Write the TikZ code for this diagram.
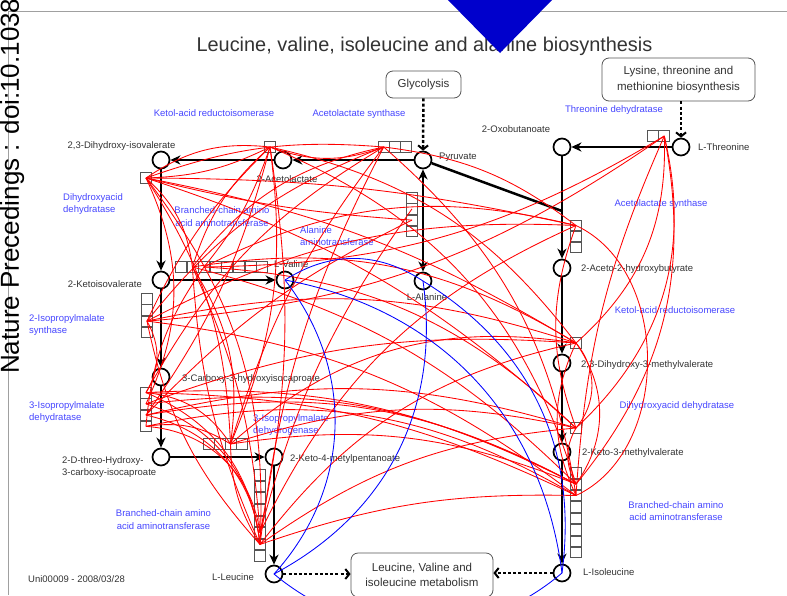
\documentclass[tikz,border=0pt]{standalone}
\usepackage{fontspec}
\setmainfont{Liberation Sans}
\usetikzlibrary{arrows.meta}
\definecolor{ink}{RGB}{51,51,51}
\definecolor{enz}{RGB}{70,70,255}
\definecolor{tri}{RGB}{0,0,204}
\definecolor{framegray}{RGB}{160,160,160}
\definecolor{boxline}{RGB}{85,85,85}

\begin{document}
\begin{tikzpicture}[x=1pt,y=-1pt,
  met/.style={circle,draw=black,line width=1.7pt,fill=white,minimum size=17pt,inner sep=0pt},
  ebox/.style={rectangle,draw=boxline,line width=0.7pt,fill=white,minimum width=11pt,minimum height=10.5pt,inner sep=0pt},
  lbl/.style={font=\fontsize{9.5}{12.5}\selectfont,text=ink,inner sep=0pt},
  enzlbl/.style={font=\fontsize{9.5}{12.5}\selectfont,text=enz,inner sep=0pt},
  pwbox/.style={draw=boxline,line width=0.8pt,rounded corners=7pt,fill=white,font=\fontsize{11.5}{15.5}\selectfont,text=ink,align=center,inner sep=0pt},
  flow/.style={line width=2.5pt,-{Stealth[length=10pt,width=9pt,inset=3pt]}},
  link/.style={line width=2.5pt,dash pattern=on 3pt off 2.2pt,-{Straight Barb[length=4pt,width=10pt,line width=2pt]}},
  rel/.style={red,line width=0.85pt},
  trans/.style={blue,line width=0.85pt},
]
\useasboundingbox (0,0) rectangle (787,595);

% frame and side stamp
\draw[framegray,line width=0.8pt] (8,595) -- (8,11.5) -- (787,11.5);
\node[rotate=90,anchor=base west,font=\fontsize{26}{30}\selectfont,inner sep=0pt] (stamp) at (19,374) {Nature Precedings : doi:10.1038};

% title
\node[anchor=base,font=\fontsize{19.9}{22}\selectfont,text=ink,inner sep=0pt] (title) at (424.5,51) {Leucine, valine, isoleucine and alanine biosynthesis};
\fill[tri] (447,-1) -- (553,-1) -- (500,53) -- cycle;

% linked pathways
\node[pwbox,minimum width=75pt,minimum height=27pt] (glyc) at (423.5,84.5) {Glycolysis};
\node[pwbox,minimum width=153pt,minimum height=43pt] (lys) at (678.5,79.5) {Lysine, threonine and\\methionine biosynthesis};
\node[pwbox,minimum width=142pt,minimum height=44pt] (metab) at (422,575) {Leucine, Valine and\\isoleucine metabolism};

% metabolites
\node[met] (dhiv) at (161,160) {};
\node[met] (acet) at (283,160) {};
\node[met] (pyr) at (423,160) {};
\node[met] (oxo) at (562,147) {};
\node[met] (thr) at (681,147) {};
\node[met] (kiv) at (161,280) {};
\node[met] (val) at (285,280) {};
\node[met] (ala) at (423,281) {};
\node[met] (ahb) at (562,268) {};
\node[met] (dhmv) at (562,363) {};
\node[met] (kmv) at (562,452) {};
\node[met] (ile) at (562,573) {};
\node[met] (cic) at (161,377) {};
\node[met] (hci) at (161,457) {};
\node[met] (kmp) at (274,457) {};
\node[met] (leu) at (274,574) {};
\coordinate (j) at (562,211);

% metabolite names
\node[lbl,anchor=base] (n-dhiv) at (121.5,148.5) {2,3-Dihydroxy-isovalerate};
\node[lbl,anchor=base] (n-acet) at (287,182.5) {2-Acetolactate};
\node[lbl,anchor=base west] (n-pyr) at (439,159.5) {Pyruvate};
\node[lbl,anchor=base] (n-oxo) at (516,132.5) {2-Oxobutanoate};
\node[lbl,anchor=base west] (n-thr) at (698,150.5) {L-Threonine};
\node[lbl,anchor=base east] (n-kiv) at (142,287.5) {2-Ketoisovalerate};
\node[lbl,anchor=base west] (n-val) at (274,267.5) {L-Valine};
\node[lbl,anchor=base] (n-ala) at (427,300.5) {L-Alanine};
\node[lbl,anchor=base west] (n-ahb) at (581,271.5) {2-Aceto-2-hydroxybutyrate};
\node[lbl,anchor=base west] (n-dhmv) at (581,367.5) {2,3-Dihydroxy-3-methylvalerate};
\node[lbl,anchor=base west] (n-kmv) at (582,455.5) {2-Keto-3-methylvalerate};
\node[lbl,anchor=base west] (n-ile) at (583,575.5) {L-Isoleucine};
\node[lbl,anchor=base west] (n-cic) at (182,381.5) {3-Carboxy-3-hydroxyisocaproate};
\node[lbl,anchor=west,align=left] (n-hci) at (62,467) {2-D-threo-Hydroxy-\\3-carboxy-isocaproate};
\node[lbl,anchor=base west] (n-kmp) at (290,461.5) {2-Keto-4-metylpentanoate};
\node[lbl,anchor=base west] (n-leu) at (212,580) {L-Leucine};
\node[lbl,anchor=base west] (stamp2) at (28,582.5) {Uni00009 - 2008/03/28};

% enzyme names
\node[enzlbl,anchor=base] (e1) at (214,116.5) {Ketol-acid reductoisomerase};
\node[enzlbl,anchor=base] (e2) at (359,116.5) {Acetolactate synthase};
\node[enzlbl,anchor=base] (e3) at (614,112.5) {Threonine dehydratase};
\node[enzlbl,anchor=west,align=left] (e4) at (63,204) {Dihydroxyacid\\dehydratase};
\node[enzlbl,align=center] (e5) at (222,216.5) {Branched-chain amino\\acid aminotransferase};
\node[enzlbl,anchor=west,align=left] (e6) at (300,236) {Alanine\\aminotransferase};
\node[enzlbl,anchor=base] (e7) at (661,206.5) {Acetolactate synthase};
\node[enzlbl,anchor=base] (e8) at (675,313.5) {Ketol-acid reductoisomerase};
\node[enzlbl,anchor=west,align=left] (e9) at (29,325) {2-Isopropylmalate\\synthase};
\node[enzlbl,anchor=base] (e10) at (677,408.5) {Dihydroxyacid dehydratase};
\node[enzlbl,anchor=west,align=left] (e11) at (29,412) {3-Isopropylmalate\\dehydratase};
\node[enzlbl,anchor=west,align=left] (e12) at (253,425) {3-Isopropylmalate\\dehydrogenase};
\node[enzlbl,align=center] (e13) at (163.5,519.5) {Branched-chain amino\\acid aminotransferase};
\node[enzlbl,align=center] (e14) at (676,511) {Branched-chain amino\\acid aminotransferase};

% reactions
\draw[flow] (pyr) -- (acet);
\draw[flow] (acet) -- (dhiv);
\draw[flow] (dhiv) -- (kiv);
\draw[flow] (kiv) -- (val);
\draw[flow] (kiv) -- (cic);
\draw[flow] (cic) -- (hci);
\draw[flow] (hci) -- (kmp);
\draw[flow] (kmp) -- (leu);
\draw[line width=2.5pt,{Stealth[length=10pt,width=9pt,inset=3pt]}-{Stealth[length=10pt,width=9pt,inset=3pt]}] (pyr) -- (ala);
\draw[flow] (thr) -- (oxo);
\draw[flow] (oxo) -- (ahb);
\draw[line width=2.5pt] (pyr) -- (j);
\draw[flow] (ahb) -- (dhmv);
\draw[flow] (dhmv) -- (kmv);
\draw[flow] (kmv) -- (ile);

% links to other pathways
\draw[link] (glyc) -- (pyr);
\draw[link] (lys.south -| thr) -- (thr);
\draw[link] (leu) -- (metab.west |- leu);
\draw[link] (ile) -- (metab.east |- ile);

% enzyme boxes
\foreach \i/\x in {1/383.7,2/395,3/406.3} \node[ebox] (pr\i) at (\x,147) {};
\foreach \i/\x in {1/652.7,2/664.3} \node[ebox] (th\i) at (\x,136) {};
\foreach \i in {1,...,4} \node[ebox] (pa\i) at (412,{186.35+11.25*\i}) {};
\foreach \i in {1,2,3} \node[ebox] (ah\i) at (576,{214.5+11*\i}) {};
\node[ebox] (ka) at (270,147) {};
\node[ebox] (da) at (146,178) {};
\node[ebox] (kr) at (576,343) {};
\node[ebox] (dq) at (576,428) {};
\foreach \i in {1,...,8} \node[ebox] (ic\i) at (576,{461.3+11.4*\i}) {};
\foreach \i in {1,...,8} \node[ebox] (vr\i) at ({169.2+11.6*\i},267) {};
\foreach \i in {1,...,4} \node[ebox] (kc\i) at (147,{287.35+11.25*\i}) {};
\foreach \i in {1,...,4} \node[ebox] (cc\i) at (146,{381.35+11.25*\i}) {};
\foreach \i in {1,...,4} \node[ebox] (dr\i) at ({197.5+11*\i},444) {};
\foreach \i in {1,...,8} \node[ebox] (lc\i) at (260,{463.2+11.6*\i}) {};

% enzyme relations
\foreach \a/\b/\g in {
  da/ka/20, da/ka/-12, ka/pr1/-20, da/pr1/12, da/ah1/6, da/kr/10, da/dq/12, da/pa3/-5,
  da/vr2/20, da/cc2/25, da/dr3/15, da/lc7/20,
  ka/vr2/-15, ka/vr3/10, ka/kc3/-10, ka/cc3/10, ka/dr3/15, ka/lc6/10, ka/kr/20, ka/ic2/25,
  pr1/vr2/-20, pr1/kc3/-15, pr1/cc1/-15, pr1/dr3/-10, pr1/lc7/-10, pr1/ah1/15, pr1/ic3/20,
  th2/kc3/15, th2/vr3/15, th2/kr/25, th2/dq/30, th2/ic2/25, th2/ic3/-10,
  vr2/lc7/-10, vr2/lc6/10, vr3/cc4/-15, vr2/dr3/20, vr2/ic2/15, vr3/dq/20, vr2/kr/20, vr3/ah1/20,
  kc3/ic3/15, kc3/kr/15, kc3/ah1/15, kc3/cc1/30, kc3/lc7/-15,
  cc1/ic2/15, cc2/ic2/17, cc3/ic2/19, cc4/ic3/21, cc1/ic3/12, cc3/dq/15, cc2/kr/12,
  cc1/lc7/30, cc2/lc7/33, cc3/lc7/36, cc4/lc6/39, cc1/dr3/25, cc4/dr3/20,
  dr3/ic2/15, dr3/dq/15, dr3/lc7/-15, dr3/kr/25,
  lc7/kr/20, lc7/dq/15, lc6/ah1/20, lc7/ic3/10,
  kr/dq/40, kr/ic2/35, dq/ic2/-30, ah1/ic3/65, ah1/dq/-20, kr/ic3/-25, pa3/cc3/-10, pa2/lc6/-10}
  \draw[rel] (\a.center) to[bend left=\g] (\b.center);

% amino acid relations
\draw[trans] (val.center) to[bend left=33] (ala.center);
\draw[trans] (ala.center) to[bend left=33] (ile.center);
\draw[trans] (val.center) to[bend left=36] (ile.center);
\draw[trans] (val.center) to[bend left=40] (leu.center);
\draw[trans] (ala.center) to[bend left=35] (leu.center);
\draw[trans] (leu.center) to[bend right=40] (ile.center);
\end{tikzpicture}
\end{document}
